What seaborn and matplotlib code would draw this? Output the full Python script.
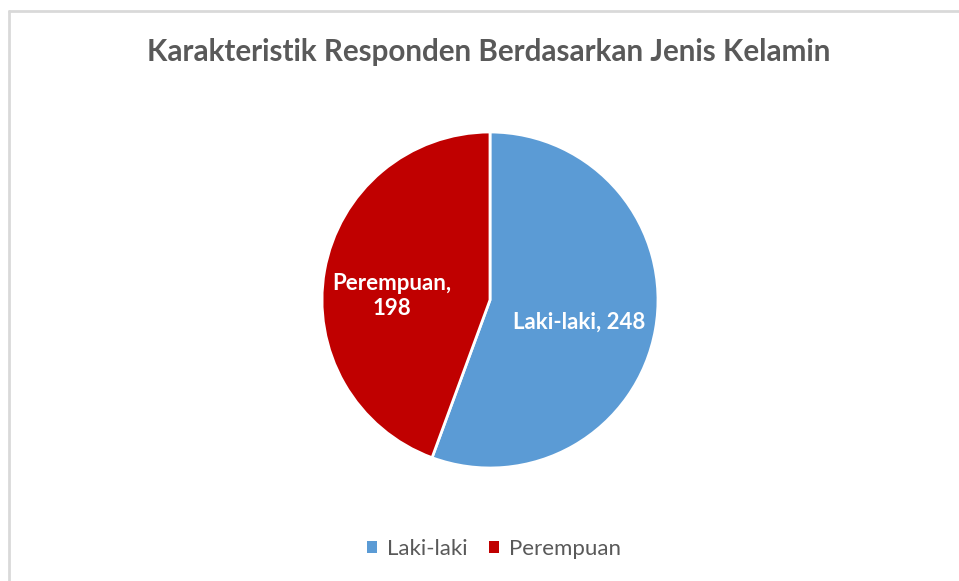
import matplotlib
matplotlib.use("Agg")
import matplotlib.pyplot as plt
import seaborn as sns
from matplotlib.patches import Rectangle
from matplotlib.lines import Line2D

categories = ["Laki-laki", "Perempuan"]
values = [248, 198]
colors = ["#5B9BD5", "#C00000"]
title = "Karakteristik Responden Berdasarkan Jenis Kelamin"

sns.set_theme(style="white")
plt.rcParams['font.family'] = ['Lato', 'DejaVu Sans']

fig = plt.figure(figsize=(9.59, 5.81), dpi=100)
fig.patch.set_facecolor("white")

# chart border (top and left visible)
fig.add_artist(Line2D([9/959, 9/959], [0, 1 - 10.5/581], transform=fig.transFigure,
                      color="#D9D9D9", lw=2))
fig.add_artist(Line2D([9/959, 1], [1 - 10.5/581, 1 - 10.5/581], transform=fig.transFigure,
                      color="#D9D9D9", lw=2))

cx, cy, r = 490, 300, 168
ax = fig.add_axes([(cx - r) / 959, (581 - cy - r) / 581, 2 * r / 959, 2 * r / 581])
wedges, texts = ax.pie(values, colors=colors, startangle=90, counterclock=False,
                       wedgeprops=dict(edgecolor="white", linewidth=2), radius=1)
ax.set_xlim(-1, 1)
ax.set_ylim(-1, 1)
ax.set_aspect("auto")
ax.axis("off")

# data labels
def to_ax(px, py):
    return ((px - cx) / r, (cy - py) / r)

lx, ly = to_ax(579, 322)
ax.text(lx, ly, f"{categories[0]}, {values[0]}", color="white", fontsize=16,
        fontweight="bold", ha="center", va="center")
px_, py_ = to_ax(392, 296)
ax.text(px_, py_, f"{categories[1]},\n{values[1]}", color="white", fontsize=16,
        fontweight="bold", ha="center", va="center", linespacing=1.25)

fig.text(489 / 959, 1 - 52 / 581, title, ha="center", va="center",
         fontsize=21.3, fontweight="bold", color="#595959")

handles = [Rectangle((0, 0), 1, 1, facecolor=c, edgecolor="none") for c in colors]
fig.legend(handles, categories, loc="center", bbox_to_anchor=(494 / 959, 1 - 549 / 581),
           ncol=2, frameon=False, fontsize=16, handlelength=0.45, handleheight=0.45,
           handletextpad=0.45, columnspacing=0.95, labelcolor="#595959")

fig.savefig("out.png", dpi=100)
